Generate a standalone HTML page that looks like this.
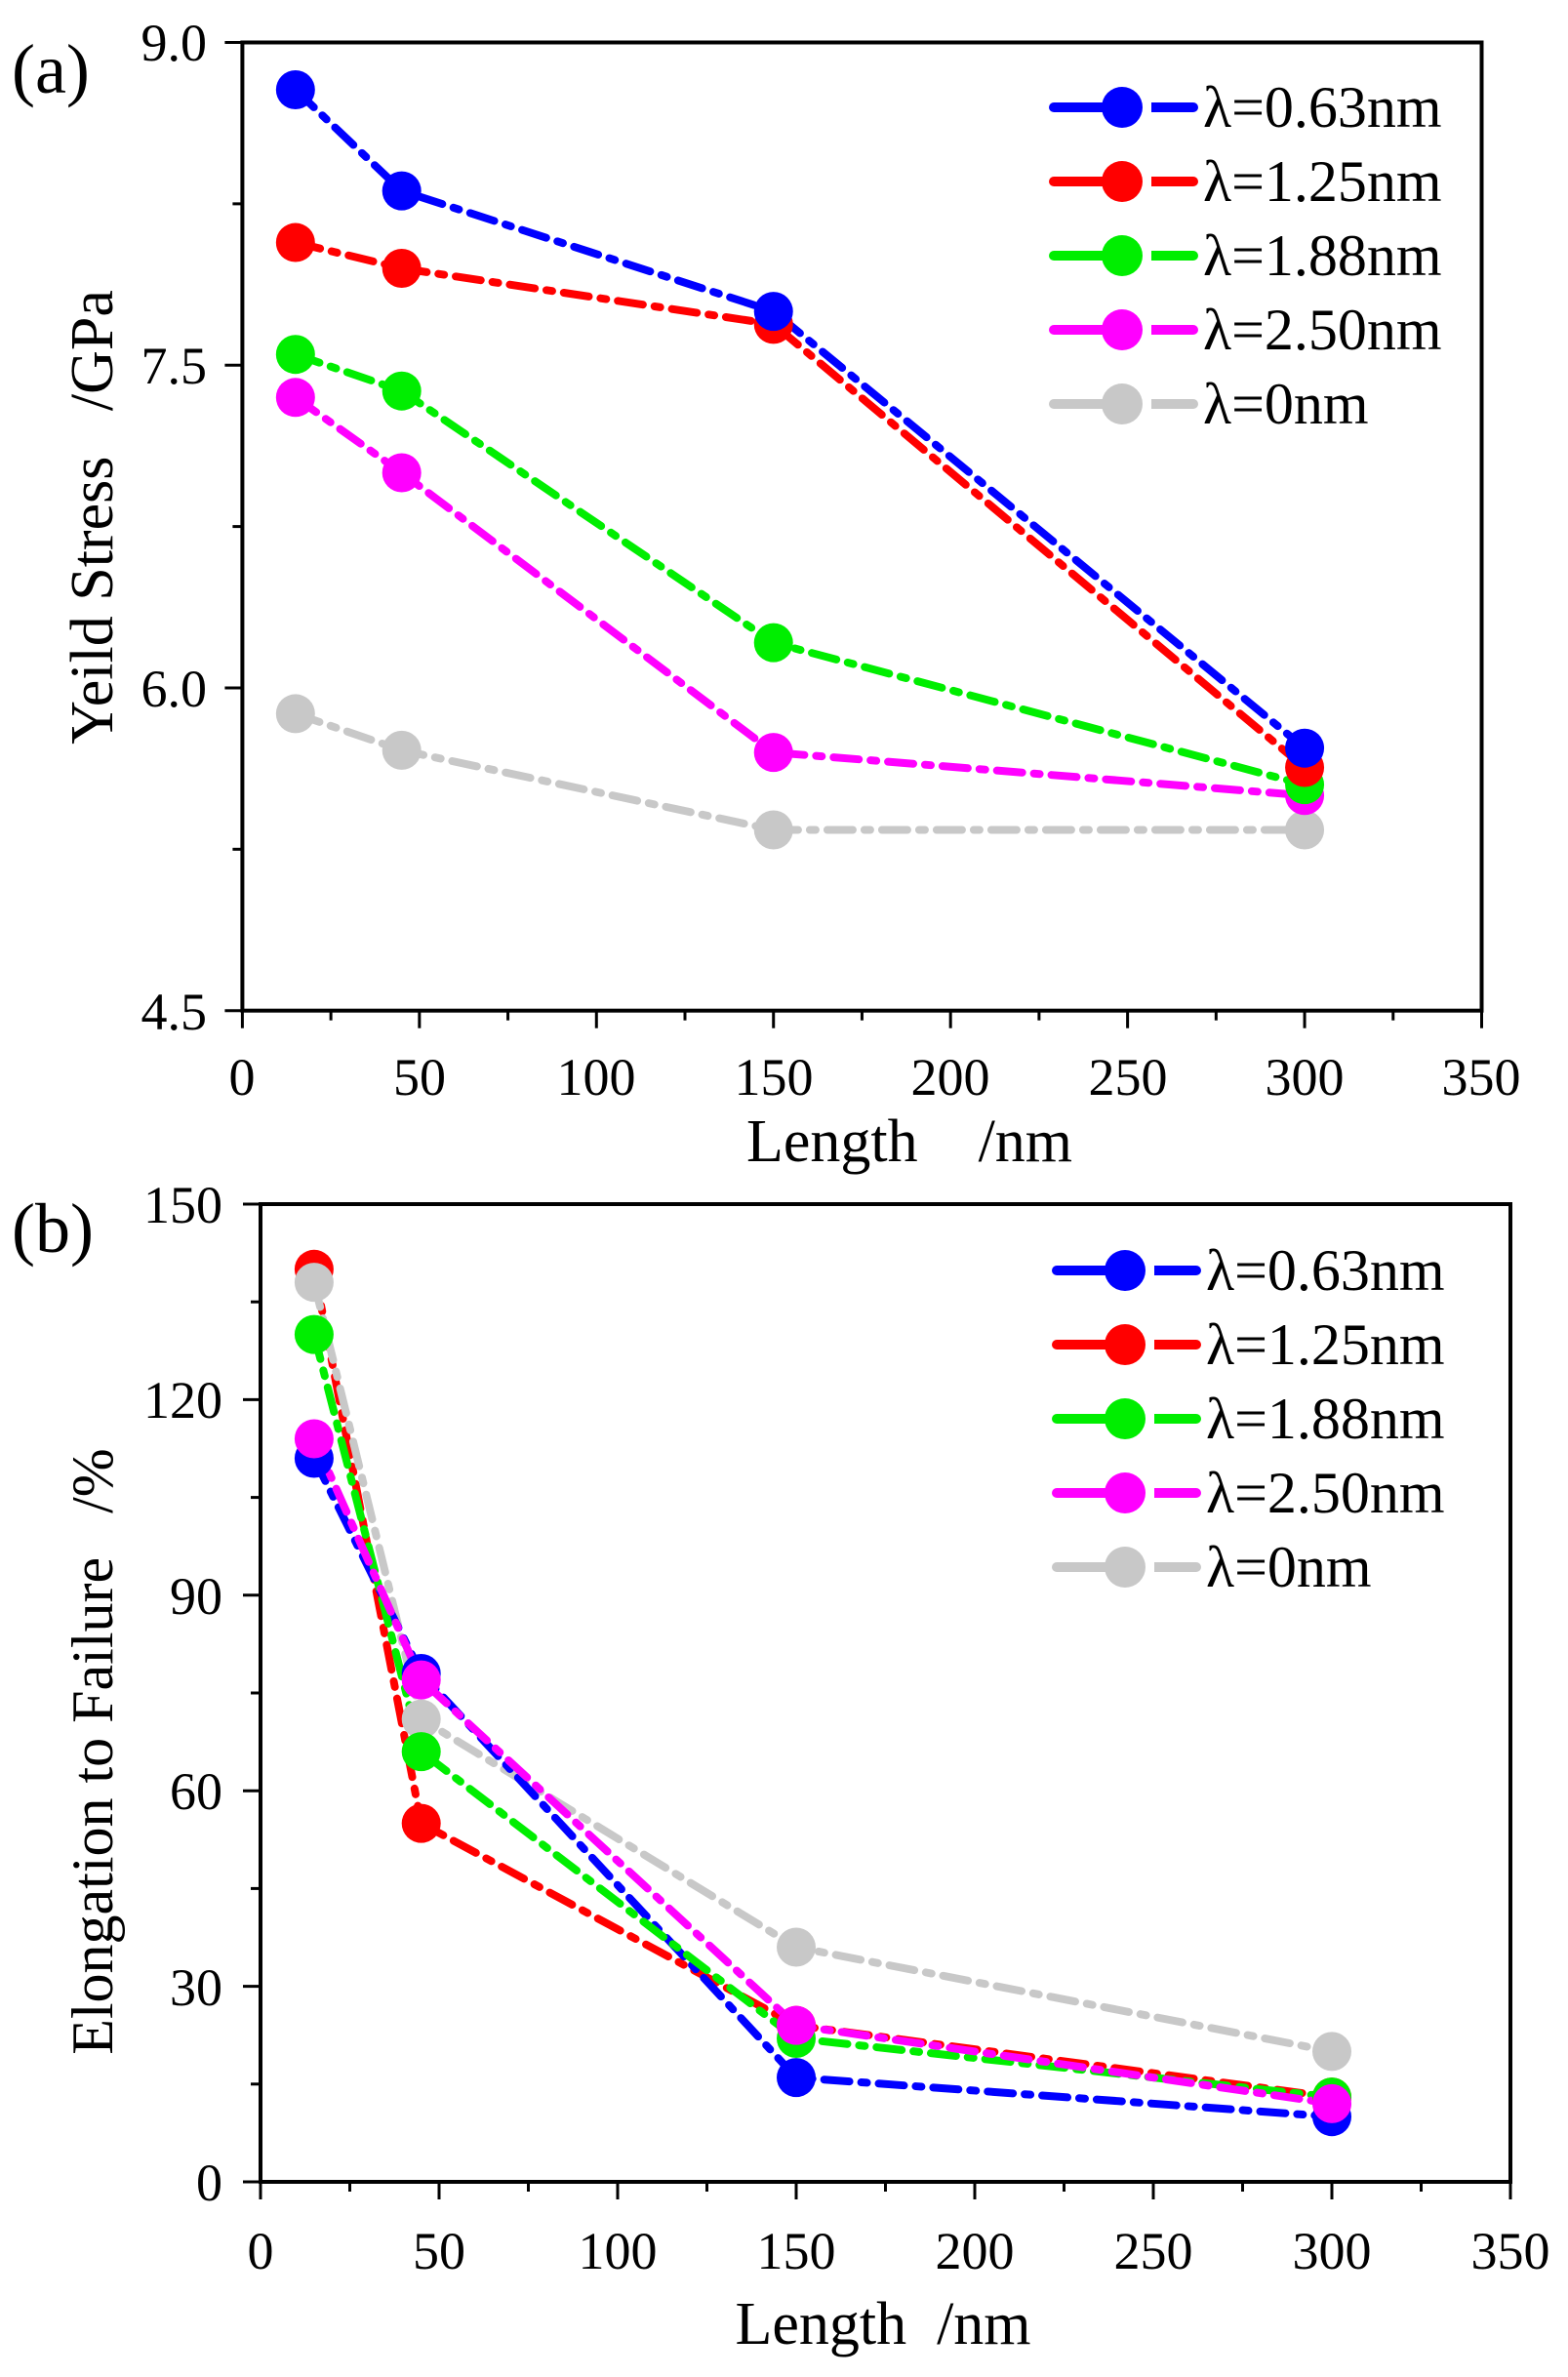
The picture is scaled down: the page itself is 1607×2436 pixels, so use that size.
<!DOCTYPE html>
<html><head><meta charset="utf-8"><style>
body{margin:0;background:#fff}
svg{display:block}
text{font-family:"Liberation Serif",serif;fill:#000}
</style></head><body>
<svg id="s" width="1607" height="2436" viewBox="0 0 1607 2436" xmlns="http://www.w3.org/2000/svg">
<rect width="1607" height="2436" fill="#fff"/>
<g id="ga"></g><g id="gb"></g>
<text x="12" y="95" font-size="72">(a)</text>
<g font-size="54" text-anchor="end">
<text x="212" y="62">9.0</text><text x="212" y="393">7.5</text><text x="212" y="724">6.0</text><text x="212" y="1055">4.5</text>
</g>
<g font-size="54" text-anchor="middle">
<text x="248" y="1122">0</text><text x="430" y="1122">50</text><text x="611" y="1122">100</text><text x="793" y="1122">150</text><text x="974" y="1122">200</text><text x="1156" y="1122">250</text><text x="1337" y="1122">300</text><text x="1518" y="1122">350</text>
</g>
<text x="932" y="1190" font-size="62" text-anchor="middle" xml:space="preserve">Length    /nm</text>
<text transform="translate(115,530) rotate(-90)" font-size="62" text-anchor="middle" xml:space="preserve">Yeild Stress   /GPa</text>
<text x="12" y="1283" font-size="72">(b)</text>
<g font-size="54" text-anchor="end">
<text x="228" y="1253">150</text><text x="228" y="1453">120</text><text x="228" y="1654">90</text><text x="228" y="1854">60</text><text x="228" y="2055">30</text><text x="228" y="2255">0</text>
</g>
<g font-size="54" text-anchor="middle">
<text x="267" y="2325">0</text><text x="450" y="2325">50</text><text x="633" y="2325">100</text><text x="816" y="2325">150</text><text x="999" y="2325">200</text><text x="1182" y="2325">250</text><text x="1365" y="2325">300</text><text x="1548" y="2325">350</text>
</g>
<text x="905" y="2402" font-size="62" text-anchor="middle" xml:space="preserve">Length  /nm</text>
<text transform="translate(115,1795) rotate(-90)" font-size="60" text-anchor="middle" xml:space="preserve">Elongation to Failure   /%</text>
<g font-size="60">
<text x="1233" y="130">λ=0.63nm</text><text x="1233" y="206">λ=1.25nm</text><text x="1233" y="282">λ=1.88nm</text><text x="1233" y="358">λ=2.50nm</text><text x="1233" y="434">λ=0nm</text>
<text x="1236" y="1322">λ=0.63nm</text><text x="1236" y="1398">λ=1.25nm</text><text x="1236" y="1474">λ=1.88nm</text><text x="1236" y="1550">λ=2.50nm</text><text x="1236" y="1626">λ=0nm</text>
</g>
</svg>
<script>
const NS="http://www.w3.org/2000/svg";
function el(p,t,a){const e=document.createElementNS(NS,t);for(const k in a)e.setAttribute(k,a[k]);p.appendChild(e);return e;}
const cols=["#0000ff","#ff0000","#00ee00","#ff00ff","#c8c8c8"];
function panel(g,o){
  const X=v=>o.x0+v*(o.x1-o.x0)/350, Y=v=>o.yb+(v-o.ymin)*(o.yt-o.yb)/(o.ymax-o.ymin);
  const order=o.order;
  order.forEach(i=>{
    const pts=o.data[i].map((v,j)=>X(o.xs[j])+","+Y(v)).join(" ");
    el(g,"polyline",{points:pts,fill:"none",stroke:cols[i],"stroke-width":8,"stroke-dasharray":"26 12 6 12","stroke-linecap":"round"});
  });
  order.forEach(i=>{o.data[i].forEach((v,j)=>el(g,"circle",{cx:X(o.xs[j]),cy:Y(v),r:20,fill:cols[i]}));});
  el(g,"rect",{x:o.x0,y:o.yt,width:o.x1-o.x0,height:o.yb-o.yt,fill:"none",stroke:"#000","stroke-width":4});
  for(let v=0;v<=350;v+=25){const x=X(v);el(g,"line",{x1:x,y1:o.yb,x2:x,y2:o.yb+(v%50?10:18),stroke:"#000","stroke-width":3});}
  for(let k=0;k<=o.ny*2;k++){const v=o.ymin+k*(o.ymax-o.ymin)/(o.ny*2);const y=Y(v);el(g,"line",{x1:o.x0,y1:y,x2:o.x0-(k%2?10:18),y2:y,stroke:"#000","stroke-width":3});}
  o.leg.forEach((ly,i)=>{
    el(g,"line",{x1:o.lx,y1:ly,x2:o.lx+143,y2:ly,stroke:cols[i],"stroke-width":10,"stroke-linecap":"round"});
    el(g,"line",{x1:o.lx+88,y1:ly,x2:o.lx+100,y2:ly,stroke:"#fff","stroke-width":12});
    el(g,"circle",{cx:o.lx+70,cy:ly,r:21,fill:cols[i]});
  });
}
panel(document.getElementById("ga"),{x0:248.4,x1:1518.5,yt:43.5,yb:1035.7,ymin:4.5,ymax:9,ny:3,xs:[15,45,150,300],order:[4,3,2,1,0],
 data:[[8.78,8.31,7.75,5.72],[8.07,7.95,7.69,5.63],[7.55,7.38,6.21,5.55],[7.35,7.0,5.70,5.50],[5.88,5.71,5.34,5.34]],
 lx:1080,leg:[110,186,262,338,414]});
panel(document.getElementById("gb"),{x0:267,x1:1548,yt:1234,yb:2236,ymin:0,ymax:150,ny:5,xs:[15,45,150,300],order:[1,4,0,2,3],
 data:[[111,78,16,10],[140,55,24,13],[130,66,22,13],[114,77,24,12],[138,71,36,20]],
 lx:1083,leg:[1302,1378,1454,1530,1606]});
</script>
</body></html>
